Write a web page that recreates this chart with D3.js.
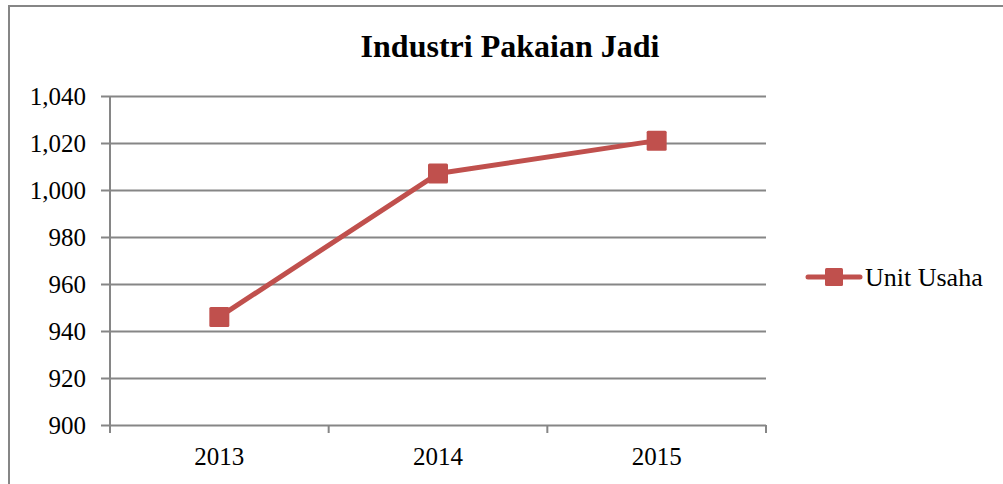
<!DOCTYPE html>
<html>
<head>
<meta charset="utf-8">
<script src="https://cdn.jsdelivr.net/npm/d3@7"></script>
<style>
  body { margin: 0; background: #fff; }
</style>
</head>
<body>
<div id="plot"></div>
<script>
// chart data
const years = ["2013", "2014", "2015"];
const unitUsaha = [946, 1007, 1021];
const yTicks = [900, 920, 940, 960, 980, 1000, 1020, 1040];
const seriesName = "Unit Usaha";
const chartTitle = "Industri Pakaian Jadi";

const width = 1003, height = 484;
const margin = {top: 96, right: 237, bottom: 59, left: 110};
const red = "#C0504D", grey = "#868686";
const serif = "Liberation Serif";

const svg = d3.select("#plot").append("svg")
     .attr("width", width)
     .attr("height", height);

// outer frame (only top & left edges visible)
svg.append("path")
     .attr("d", "M9," + height + "V6H" + width)
     .attr("fill", "none")
     .attr("stroke", grey)
     .attr("stroke-width", 2);

const x = d3.scaleBand()
     .domain(years)
     .range([margin.left, width - margin.right]);

const y = d3.scaleLinear()
     .domain([900, 1040])
     .range([height - margin.bottom, margin.top]);

// gridlines
svg.append("g")
     .selectAll("line")
     .data(yTicks)
     .enter()
     .append("line")
     .attr("x1", margin.left - 9)
     .attr("x2", width - margin.right)
     .attr("y1", d => Math.round(y(d)) + 0.5)
     .attr("y2", d => Math.round(y(d)) + 0.5)
     .attr("stroke", grey)
     .attr("stroke-width", 2);

// y axis line
svg.append("line")
     .attr("x1", margin.left).attr("x2", margin.left)
     .attr("y1", y(1040)).attr("y2", y(900) + 7)
     .attr("stroke", grey).attr("stroke-width", 2);

// y labels
svg.append("g")
     .selectAll("text")
     .data(yTicks)
     .enter()
     .append("text")
     .attr("x", 86)
     .attr("y", d => y(d))
     .attr("dy", "0.34em")
     .attr("text-anchor", "end")
     .attr("font-family", serif)
     .attr("font-size", 25)
     .text(d => d3.format(",")(d));

// x ticks at band boundaries
const bounds = years.map(d => x(d)).concat([x(years[years.length - 1]) + x.bandwidth()]);
svg.append("g")
     .selectAll("line")
     .data(bounds)
     .enter()
     .append("line")
     .attr("x1", d => d).attr("x2", d => d)
     .attr("y1", y(900)).attr("y2", y(900) + 8)
     .attr("stroke", grey).attr("stroke-width", 2);

svg.append("g")
     .selectAll("text")
     .data(years)
     .enter()
     .append("text")
     .attr("x", d => x(d) + x.bandwidth() / 2)
     .attr("y", 465)
     .attr("text-anchor", "middle")
     .attr("font-family", serif)
     .attr("font-size", 25)
     .text(d => d);

// series line
const line = d3.line()
     .x((d, i) => x(years[i]) + x.bandwidth() / 2)
     .y(d => y(d));

svg.append("path")
     .datum(unitUsaha)
     .attr("d", line)
     .attr("fill", "none")
     .attr("stroke", red)
     .attr("stroke-width", 5)
     .attr("stroke-linejoin", "round");

const boxSize = 20;
svg.selectAll(".marker")
     .data(unitUsaha)
     .enter()
     .append("rect")
     .attr("class", "marker")
     .attr("x", (d, i) => x(years[i]) + x.bandwidth() / 2 - boxSize / 2)
     .attr("y", d => y(d) - boxSize / 2)
     .attr("width", boxSize)
     .attr("height", boxSize)
     .attr("rx", 1.5)
     .attr("fill", red);

// title
svg.append("text")
     .attr("x", 510)
     .attr("y", 57)
     .attr("text-anchor", "middle")
     .attr("font-family", serif)
     .attr("font-size", 32)
     .attr("font-weight", "bold")
     .text(chartTitle);

// legend
const legend = svg.append("g");
legend.append("line")
     .attr("x1", 808).attr("x2", 860)
     .attr("y1", 277).attr("y2", 277)
     .attr("stroke", red).attr("stroke-width", 5)
     .attr("stroke-linecap", "round");
legend.append("rect")
     .attr("x", 825).attr("y", 268)
     .attr("width", 18).attr("height", 18)
     .attr("rx", 1.5)
     .attr("fill", red);
legend.append("text")
     .attr("x", 865)
     .attr("y", 286)
     .attr("font-family", serif)
     .attr("font-size", 26)
     .text(seriesName);
</script>
</body>
</html>
